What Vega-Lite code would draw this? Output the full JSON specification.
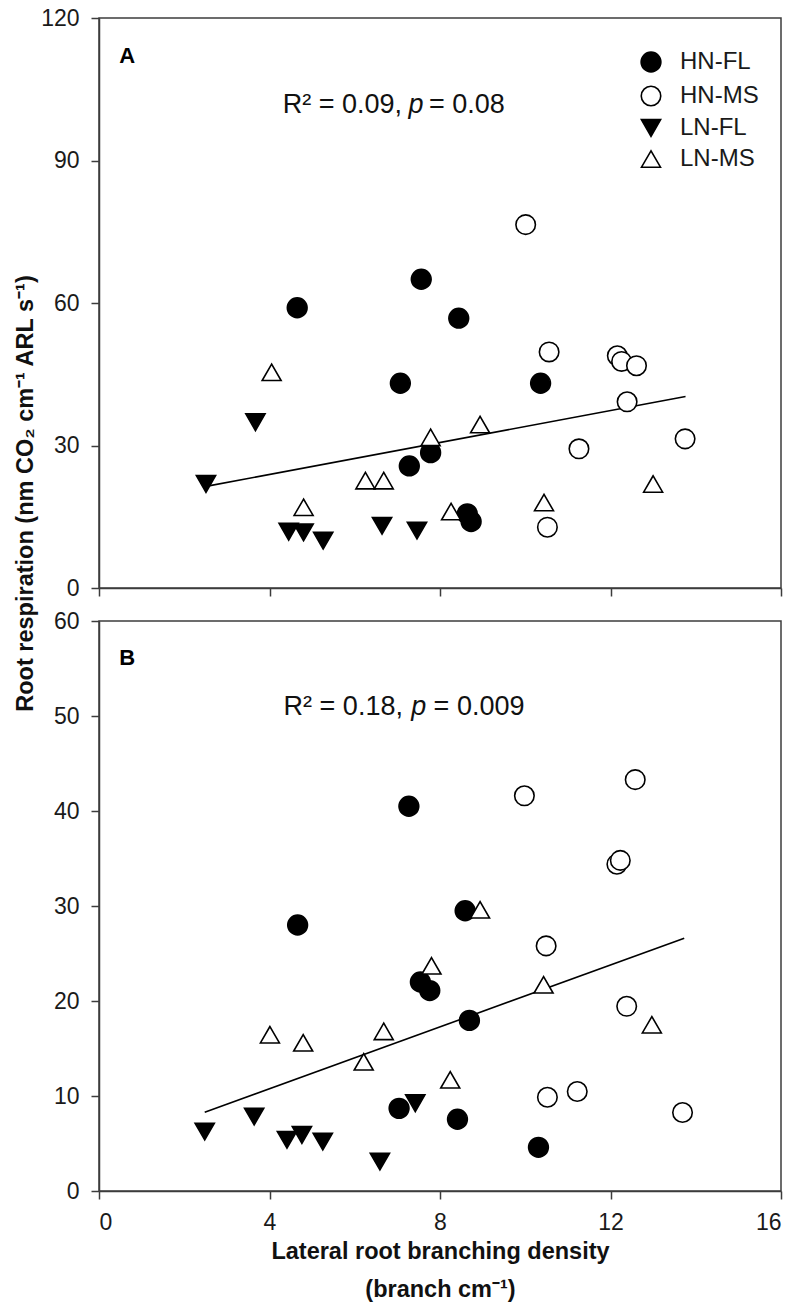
{
  "$schema": "https://vega.github.io/schema/vega-lite/v6.json",
  "background": "white",
  "padding": {"left": 12, "top": 6, "right": 5, "bottom": 5},
  "spacing": 33,
  "bounds": "flush",
  "config": {
    "font": "Liberation Sans",
    "view": {"stroke": "#3c3c3c", "strokeWidth": 1.5},
    "axis": {"domainColor": "#3c3c3c", "domainWidth": 1.5, "tickColor": "#3c3c3c", "tickWidth": 1.5, "tickSize": 8, "grid": false, "labelFont": "Liberation Sans", "labelFontSize": 23, "labelColor": "#1a1a1a", "labelPadding": 12, "titleFont": "Liberation Sans", "titleFontWeight": "bold", "titleFontSize": 23.5, "titleColor": "#111"},
    "legend": {"labelFont": "Liberation Sans", "labelFontSize": 24, "labelColor": "#1a1a1a", "symbolStrokeColor": "black", "symbolStrokeWidth": 1.6, "rowPadding": 7, "labelOffset": 17, "padding": 0}
  },
  "datasets": {
    "ptsA": [
      {"g": "HN-FL", "x": 4.65, "y": 59.0}, {"g": "HN-FL", "x": 7.56, "y": 65.0}, {"g": "HN-FL", "x": 8.44, "y": 56.8}, {"g": "HN-FL", "x": 7.07, "y": 43.1}, {"g": "HN-FL", "x": 10.36, "y": 43.1}, {"g": "HN-FL", "x": 7.28, "y": 25.7}, {"g": "HN-FL", "x": 7.78, "y": 28.5}, {"g": "HN-FL", "x": 8.64, "y": 15.6}, {"g": "HN-FL", "x": 8.73, "y": 14.0},
      {"g": "HN-MS", "x": 10.01, "y": 76.5}, {"g": "HN-MS", "x": 10.56, "y": 49.7}, {"g": "HN-MS", "x": 12.16, "y": 48.9}, {"g": "HN-MS", "x": 12.26, "y": 47.7}, {"g": "HN-MS", "x": 12.61, "y": 46.8}, {"g": "HN-MS", "x": 12.39, "y": 39.2}, {"g": "HN-MS", "x": 11.26, "y": 29.3}, {"g": "HN-MS", "x": 13.75, "y": 31.4}, {"g": "HN-MS", "x": 10.52, "y": 12.8},
      {"g": "LN-FL", "x": 3.67, "y": 34.9}, {"g": "LN-FL", "x": 2.51, "y": 21.9}, {"g": "LN-FL", "x": 4.45, "y": 11.85}, {"g": "LN-FL", "x": 4.8, "y": 11.7}, {"g": "LN-FL", "x": 5.26, "y": 9.96}, {"g": "LN-FL", "x": 6.64, "y": 13.1}, {"g": "LN-FL", "x": 7.46, "y": 12.1},
      {"g": "LN-MS", "x": 4.05, "y": 45.4}, {"g": "LN-MS", "x": 4.8, "y": 17.0}, {"g": "LN-MS", "x": 6.25, "y": 22.6}, {"g": "LN-MS", "x": 6.68, "y": 22.6}, {"g": "LN-MS", "x": 7.78, "y": 31.7}, {"g": "LN-MS", "x": 8.94, "y": 34.4}, {"g": "LN-MS", "x": 10.44, "y": 18.0}, {"g": "LN-MS", "x": 8.26, "y": 16.1}, {"g": "LN-MS", "x": 13.0, "y": 21.9}
    ],
    "ptsB": [
      {"g": "HN-FL", "x": 4.66, "y": 28.0}, {"g": "HN-FL", "x": 7.27, "y": 40.5}, {"g": "HN-FL", "x": 8.59, "y": 29.5}, {"g": "HN-FL", "x": 7.54, "y": 22.0}, {"g": "HN-FL", "x": 7.76, "y": 21.1}, {"g": "HN-FL", "x": 8.69, "y": 17.96}, {"g": "HN-FL", "x": 7.04, "y": 8.7}, {"g": "HN-FL", "x": 8.41, "y": 7.55}, {"g": "HN-FL", "x": 10.31, "y": 4.6},
      {"g": "HN-MS", "x": 9.98, "y": 41.6}, {"g": "HN-MS", "x": 12.58, "y": 43.3}, {"g": "HN-MS", "x": 12.15, "y": 34.4}, {"g": "HN-MS", "x": 12.23, "y": 34.8}, {"g": "HN-MS", "x": 10.49, "y": 25.8}, {"g": "HN-MS", "x": 12.38, "y": 19.44}, {"g": "HN-MS", "x": 10.52, "y": 9.87}, {"g": "HN-MS", "x": 11.22, "y": 10.47}, {"g": "HN-MS", "x": 13.69, "y": 8.26},
      {"g": "LN-FL", "x": 2.48, "y": 6.25}, {"g": "LN-FL", "x": 3.64, "y": 7.84}, {"g": "LN-FL", "x": 4.41, "y": 5.38}, {"g": "LN-FL", "x": 4.76, "y": 5.9}, {"g": "LN-FL", "x": 5.25, "y": 5.2}, {"g": "LN-FL", "x": 6.59, "y": 3.1}, {"g": "LN-FL", "x": 7.42, "y": 9.24},
      {"g": "LN-MS", "x": 4.01, "y": 16.45}, {"g": "LN-MS", "x": 4.79, "y": 15.6}, {"g": "LN-MS", "x": 6.68, "y": 16.8}, {"g": "LN-MS", "x": 6.21, "y": 13.6}, {"g": "LN-MS", "x": 8.24, "y": 11.7}, {"g": "LN-MS", "x": 7.8, "y": 23.7}, {"g": "LN-MS", "x": 8.94, "y": 29.6}, {"g": "LN-MS", "x": 10.43, "y": 21.7}, {"g": "LN-MS", "x": 12.97, "y": 17.5}
    ],
    "lineA": [{"x": 2.51, "y": 21.4}, {"x": 13.76, "y": 40.3}],
    "lineB": [{"x": 2.48, "y": 8.3}, {"x": 13.73, "y": 26.6}],
    "txtA": [{"x": 0.66, "y": 112.1, "t": "A", "r2": "R² = 0.09,", "p": "p", "v": "= 0.08", "x1": 7.11, "x2": 7.44, "x3": 7.74, "yb": 100.1}],
    "txtB": [{"x": 0.66, "y": 56.15, "t": "B", "r2": "R² = 0.18,", "p": "p", "v": "= 0.009", "x1": 7.13, "x2": 7.5, "x3": 7.85, "yb": 50.15}]
  },
  "vconcat": [
    {
      "width": 682,
      "height": 570,
      "resolve": {"legend": {"shape": "independent", "fill": "independent", "size": "independent", "stroke": "independent"}},
      "encoding": {
        "x": {"field": "x", "type": "quantitative", "scale": {"domain": [0, 16], "nice": false}, "axis": {"values": [0, 4, 8, 12, 16], "labels": false, "title": null}},
        "y": {"field": "y", "type": "quantitative", "scale": {"domain": [0, 120], "nice": false}, "axis": {"values": [0, 30, 60, 90, 120], "title": "Root respiration (nm CO₂ cm⁻¹ ARL s⁻¹)", "titleX": -74, "titleY": 475, "titleBaseline": "middle"}}
      },
      "layer": [
        {"data": {"name": "lineA"}, "mark": {"type": "line", "color": "black", "strokeWidth": 1.6}, "encoding": {}},
        {
          "data": {"name": "ptsA"},
          "mark": {"type": "point", "strokeWidth": 1.6, "opacity": 1},
          "encoding": {
            "shape": {"field": "g", "type": "nominal", "scale": {"domain": ["HN-FL", "HN-MS", "LN-FL", "LN-MS"], "range": ["circle", "circle", "triangle-down", "triangle-up"]}, "legend": {"title": null, "orient": "none", "legendX": 540, "legendY": 32}},
            "fill": {"field": "g", "type": "nominal", "scale": {"domain": ["HN-FL", "HN-MS", "LN-FL", "LN-MS"], "range": ["black", "white", "black", "white"]}, "legend": {"title": null, "orient": "none", "legendX": 540, "legendY": 32}},
            "stroke": {"field": "g", "type": "nominal", "scale": {"domain": ["HN-FL", "HN-MS", "LN-FL", "LN-MS"], "range": ["black", "black", "black", "black"]}, "legend": {"title": null, "orient": "none", "legendX": 540, "legendY": 32}},
            "size": {"field": "g", "type": "nominal", "scale": {"domain": ["HN-FL", "HN-MS", "LN-FL", "LN-MS"], "range": [390, 360, 520, 500]}, "legend": {"title": null, "orient": "none", "legendX": 540, "legendY": 32}}
          }
        },
        {"data": {"name": "txtA"}, "mark": {"type": "text", "font": "Liberation Sans", "fontWeight": "bold", "fontSize": 22, "align": "center", "baseline": "middle", "color": "black"}, "encoding": {"text": {"field": "t"}}},
        {"data": {"name": "txtA"}, "mark": {"type": "text", "font": "Liberation Sans", "fontSize": 27, "align": "right", "baseline": "alphabetic", "color": "#111"}, "encoding": {"x": {"field": "x1", "type": "quantitative"}, "y": {"field": "yb", "type": "quantitative"}, "text": {"field": "r2"}}},
        {"data": {"name": "txtA"}, "mark": {"type": "text", "font": "Liberation Sans", "fontSize": 27, "fontStyle": "italic", "align": "center", "baseline": "alphabetic", "color": "#111"}, "encoding": {"x": {"field": "x2", "type": "quantitative"}, "y": {"field": "yb", "type": "quantitative"}, "text": {"field": "p"}}},
        {"data": {"name": "txtA"}, "mark": {"type": "text", "font": "Liberation Sans", "fontSize": 27, "align": "left", "baseline": "alphabetic", "color": "#111"}, "encoding": {"x": {"field": "x3", "type": "quantitative"}, "y": {"field": "yb", "type": "quantitative"}, "text": {"field": "v"}}}
      ]
    },
    {
      "width": 682,
      "height": 570,
      "encoding": {
        "x": {"field": "x", "type": "quantitative", "scale": {"domain": [0, 16], "nice": false}, "axis": {"values": [0, 4, 8, 12, 16], "title": ["Lateral root branching density", "(branch cm⁻¹)"], "titleLineHeight": 38, "titlePadding": 5}},
        "y": {"field": "y", "type": "quantitative", "scale": {"domain": [0, 60], "nice": false}, "axis": {"values": [0, 10, 20, 30, 40, 50, 60], "title": null}}
      },
      "layer": [
        {"data": {"name": "lineB"}, "mark": {"type": "line", "color": "black", "strokeWidth": 1.6}, "encoding": {}},
        {
          "data": {"name": "ptsB"},
          "mark": {"type": "point", "strokeWidth": 1.6, "opacity": 1},
          "encoding": {
            "shape": {"field": "g", "type": "nominal", "scale": {"domain": ["HN-FL", "HN-MS", "LN-FL", "LN-MS"], "range": ["circle", "circle", "triangle-down", "triangle-up"]}, "legend": null},
            "fill": {"field": "g", "type": "nominal", "scale": {"domain": ["HN-FL", "HN-MS", "LN-FL", "LN-MS"], "range": ["black", "white", "black", "white"]}, "legend": null},
            "stroke": {"field": "g", "type": "nominal", "scale": {"domain": ["HN-FL", "HN-MS", "LN-FL", "LN-MS"], "range": ["black", "black", "black", "black"]}, "legend": null},
            "size": {"field": "g", "type": "nominal", "scale": {"domain": ["HN-FL", "HN-MS", "LN-FL", "LN-MS"], "range": [390, 360, 520, 500]}, "legend": null}
          }
        },
        {"data": {"name": "txtB"}, "mark": {"type": "text", "font": "Liberation Sans", "fontWeight": "bold", "fontSize": 22, "align": "center", "baseline": "middle", "color": "black"}, "encoding": {"text": {"field": "t"}}},
        {"data": {"name": "txtB"}, "mark": {"type": "text", "font": "Liberation Sans", "fontSize": 27, "align": "right", "baseline": "alphabetic", "color": "#111"}, "encoding": {"x": {"field": "x1", "type": "quantitative"}, "y": {"field": "yb", "type": "quantitative"}, "text": {"field": "r2"}}},
        {"data": {"name": "txtB"}, "mark": {"type": "text", "font": "Liberation Sans", "fontSize": 27, "fontStyle": "italic", "align": "center", "baseline": "alphabetic", "color": "#111"}, "encoding": {"x": {"field": "x2", "type": "quantitative"}, "y": {"field": "yb", "type": "quantitative"}, "text": {"field": "p"}}},
        {"data": {"name": "txtB"}, "mark": {"type": "text", "font": "Liberation Sans", "fontSize": 27, "align": "left", "baseline": "alphabetic", "color": "#111"}, "encoding": {"x": {"field": "x3", "type": "quantitative"}, "y": {"field": "yb", "type": "quantitative"}, "text": {"field": "v"}}}
      ]
    }
  ]
}
